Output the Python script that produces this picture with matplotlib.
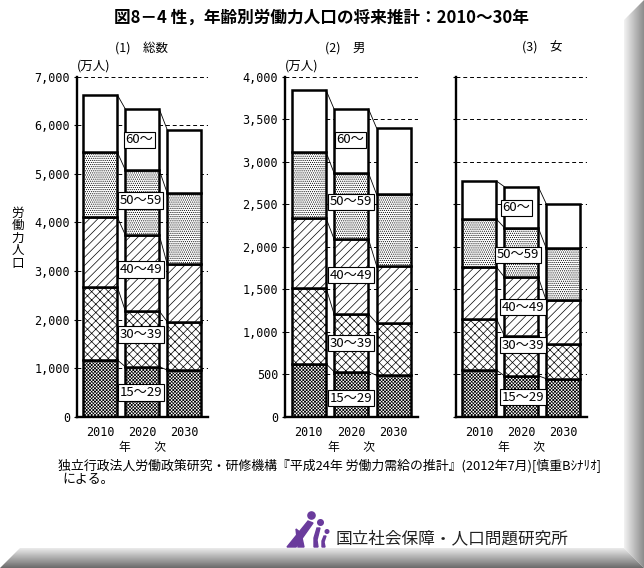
import numpy as np
import matplotlib
matplotlib.use('Agg')
import matplotlib.pyplot as plt
from matplotlib.patches import Polygon, Circle

plt.rcParams['font.family'] = ['Noto Sans CJK JP', 'DejaVu Sans']
plt.rcParams['hatch.linewidth'] = 0.5

# data (万人), bottom to top: 15-29, 30-39, 40-49, 50-59, 60+
years = ['2010', '2020', '2030']
age_labels = ['15～29', '30～39', '40～49', '50～59', '60～']
total = [[1167, 1030, 961],
         [1503, 1146, 995],
         [1434, 1565, 1187],
         [1339, 1338, 1462],
         [1180, 1256, 1304]]
male = [[624, 529, 486],
        [894, 679, 616],
        [819, 882, 674],
        [777, 777, 840],
        [729, 753, 780]]
female = [[549, 482, 447],
          [604, 471, 408],
          [608, 690, 514],
          [564, 581, 615],
          [448, 482, 522]]
panel_titles = ['(1)　総数', '(2)　男', '(3)　女']

# where the age-group boxes sit (x in bar units, y in 万人), same order as age_labels
label_x = [[0.96, 0.96, 0.96, 0.96, 0.93],
           [0.99, 0.99, 0.99, 0.99, 0.98],
           [1.04, 1.04, 1.04, 0.92, 0.89]]
label_y = [[498, 1692, 3031, 4452, 5703],
           [220, 863, 1667, 2529, 3258],
           [228, 843, 1287, 1905, 2457]]

hatches = ['xxxxxxxxxx', 'xxxx', '////', '........', '']

W, H = 644, 568
fig = plt.figure(figsize=(W / 100, H / 100), dpi=100)

def px(x, y):
    return x / W, 1 - y / H

# axes boxes in pixels: left, right
boxes = [(77, 208), (285, 418), (456, 587)]
top, bottom = 76.7, 416.7
ylims = [7000, 4000, 4000]
ysteps = [1000, 500, 500]
width = 0.81

for k, data in enumerate([total, male, female]):
    l, r = boxes[k]
    ax = fig.add_axes([l / W, 1 - bottom / H, (r - l) / W, (bottom - top) / H])
    data = np.array(data)
    x = np.arange(len(years))
    cum = np.zeros(len(years))
    tops = []
    for i in range(len(age_labels)):
        ax.bar(x, data[i], bottom=cum, width=width, facecolor='white',
               edgecolor='black', hatch=hatches[i], linewidth=1.8, zorder=2)
        cum = cum + data[i]
        tops.append(cum.copy())
    # series lines between bars
    for t in tops:
        for j in range(len(years) - 1):
            ax.plot([x[j] + width / 2, x[j + 1] - width / 2], [t[j], t[j + 1]],
                    color='black', linewidth=0.6, zorder=3)
    for i, lab in enumerate(age_labels):
        ax.text(label_x[k][i], label_y[k][i], lab, ha='center', va='center',
                fontsize=9.5, zorder=5,
                bbox=dict(boxstyle='square,pad=0.12', fc='white', ec='black', lw=0.8))

    ax.set_xlim(-0.56, 2.57)
    ax.set_ylim(0, ylims[k])
    ax.set_yticks(np.arange(0, ylims[k] + 1, ysteps[k]))
    ax.yaxis.grid(True, linestyle=(0, (4, 3)), color='black', linewidth=0.7)
    ax.set_axisbelow(True)
    ax.set_xticks(x)
    ax.set_xticklabels(years, fontfamily='DejaVu Sans Mono', fontsize=8.5)
    ax.tick_params(axis='x', length=0, pad=7)
    ax.tick_params(axis='y', direction='out', length=2, width=0.8, pad=3)
    if k < 2:
        ax.set_yticklabels([f'{v:,}' for v in ax.get_yticks().astype(int)],
                           fontfamily='DejaVu Sans Mono', fontsize=8.5)
        fig.text(*px(l, 73), '(万人)', fontsize=9, ha='left', va='bottom')
    else:
        ax.set_yticklabels([])
    for s in ['top', 'right']:
        ax.spines[s].set_visible(False)
    ax.spines['left'].set_linewidth(1.7)
    ax.spines['bottom'].set_linewidth(1.7)

    fig.text(*px((l + r) / 2, 448), '年　　次', fontsize=8.5, ha='center', va='center')

fig.text(*px(115, 48), panel_titles[0], fontsize=9, ha='left', va='center')
fig.text(*px(325, 48), panel_titles[1], fontsize=9, ha='left', va='center')
fig.text(*px(522, 48), panel_titles[2], fontsize=9, ha='left', va='center')

fig.text(*px(321, 18), '図8－4 性，年齢別労働力人口の将来推計：2010～30年',
         fontsize=12, fontweight='bold', ha='center', va='center')
fig.text(*px(18, 238), '労\n働\n力\n人\n口', fontsize=9, ha='center', va='center',
         linespacing=0.95)
fig.text(*px(58, 466), '独立行政法人労働政策研究・研修機構『平成24年 労働力需給の推計』(2012年7月)[慎重Bｼﾅﾘｵ]',
         fontsize=9.3, ha='left', va='center')
fig.text(*px(62, 480), 'による。', fontsize=9.3, ha='left', va='center')
fig.text(*px(336, 539), '国立社会保障・人口問題研究所', fontsize=12, ha='left', va='center',
         color='#222222')

# frame bevel and logo in pixel coordinates
deco = fig.add_axes([0, 0, 1, 1], zorder=-1)
deco.set_xlim(0, W)
deco.set_ylim(H, 0)
deco.axis('off')
grad_h = np.linspace(0.95, 0.55, 64).reshape(1, -1)
im = deco.imshow(grad_h, cmap='gray', vmin=0, vmax=1, extent=[624, 644, 568, 0],
                 aspect='auto', interpolation='bilinear')
im.set_clip_path(Polygon([(624, 20), (644, 0), (644, 568), (624, 548)],
                         transform=deco.transData))
grad_v = np.linspace(0.92, 0.42, 64).reshape(-1, 1)
im2 = deco.imshow(grad_v, cmap='gray', vmin=0, vmax=1, extent=[0, 644, 568, 548],
                  aspect='auto', interpolation='bilinear')
im2.set_clip_path(Polygon([(0, 568), (20, 548), (624, 548), (644, 568)],
                          transform=deco.transData))

logo = fig.add_axes([0, 0, 1, 1], zorder=5)
logo.set_xlim(0, W)
logo.set_ylim(H, 0)
logo.axis('off')
purple = '#6a3b9c'
logo.add_patch(Circle((311.5, 515.5), 3.6, color=purple))
logo.add_patch(Circle((320.5, 522.5), 2.8, color=purple))
logo.add_patch(Circle((327.0, 531.5), 1.8, color=purple))
logo.add_patch(Polygon([(287, 547), (296, 547), (313, 523), (308, 521)], color=purple))
logo.add_patch(Polygon([(298, 547), (304, 547), (301, 533), (296, 529)], color=purple))
logo.add_patch(Polygon([(317, 528), (320, 528), (317, 540), (318, 547), (314, 547), (314, 538)],
                       color=purple))
logo.add_patch(Polygon([(324, 536), (326, 536), (324, 542), (325, 547), (322, 547), (322, 541)],
                       color=purple))

fig.savefig('out.png', dpi=100)
